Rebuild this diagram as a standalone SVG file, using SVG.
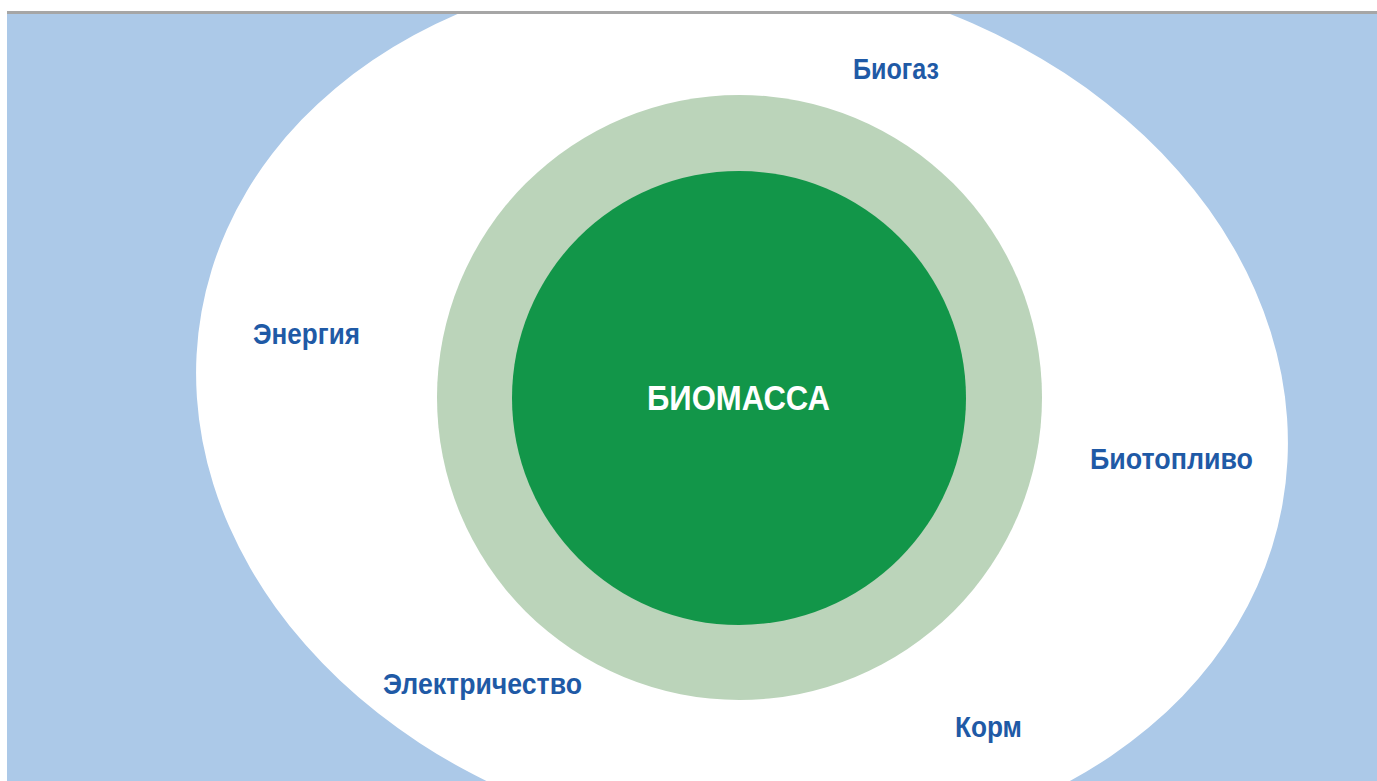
<svg xmlns="http://www.w3.org/2000/svg" width="1377" height="781" viewBox="0 0 1377 781">
  <style>
    .lbl { font-family: "Liberation Sans", Arial, sans-serif; font-weight: bold; font-size: 30px; fill: #1F5AA6; }
    .center { font-family: "Liberation Sans", Arial, sans-serif; font-weight: bold; font-size: 35px; fill: #FFFFFF; }
  </style>
  <defs>
    <clipPath id="panel">
      <rect x="7" y="14" width="1370" height="767"/>
    </clipPath>
  </defs>
  <rect x="0" y="0" width="1377" height="781" fill="#FFFFFF"/>
  <g id="background">
    <rect x="7" y="14" width="1370" height="767" fill="#ACC9E8"/>
    <g clip-path="url(#panel)">
      <ellipse cx="742" cy="408" rx="549" ry="438" transform="rotate(10.1 742 408)" fill="#FFFFFF"/>
    </g>
    <rect x="7" y="11" width="1370" height="3" fill="#A6A6A6"/>
  </g>
  <g id="connectors"></g>
  <g id="ring">
    <circle cx="739.5" cy="397.5" r="302.5" fill="#BBD4BA"/>
  </g>
  <g id="biomass">
    <circle cx="739" cy="398" r="227" fill="#129649"/>
    <text class="center" x="647" y="410" textLength="183" lengthAdjust="spacingAndGlyphs">БИОМАССА</text>
  </g>
  <g id="biogas">
    <text class="lbl" x="853" y="79" textLength="86" lengthAdjust="spacingAndGlyphs">Биогаз</text>
  </g>
  <g id="energy">
    <text class="lbl" x="253" y="344" textLength="107" lengthAdjust="spacingAndGlyphs">Энергия</text>
  </g>
  <g id="biofuel">
    <text class="lbl" x="1090" y="469" textLength="163" lengthAdjust="spacingAndGlyphs">Биотопливо</text>
  </g>
  <g id="electricity">
    <text class="lbl" x="383" y="694" textLength="199" lengthAdjust="spacingAndGlyphs">Электричество</text>
  </g>
  <g id="feed">
    <text class="lbl" x="955" y="737" textLength="67" lengthAdjust="spacingAndGlyphs">Корм</text>
  </g>
</svg>
